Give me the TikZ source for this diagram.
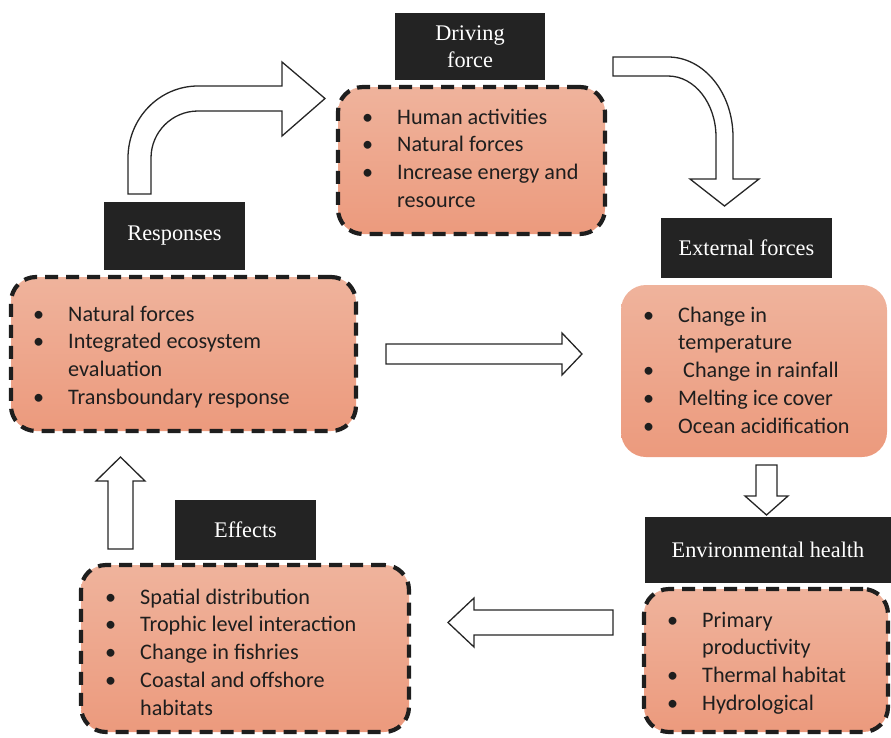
\documentclass[tikz,border=0pt]{standalone}
\usepackage{fontspec}
\setmainfont{Carlito}
\newfontfamily\titlefont{Liberation Serif}
\definecolor{salmonTop}{RGB}{239,179,156}
\definecolor{salmonBot}{RGB}{236,154,125}
\definecolor{titlebg}{RGB}{35,35,35}
\definecolor{dashcol}{RGB}{30,30,30}
\definecolor{textcol}{RGB}{30,30,30}
\newcommand\bl{\makebox[35pt][l]{•}}
\newcommand\cn{\hspace*{35pt}}
\newcommand\fl{\rule{0pt}{18pt}}
\tikzset{
 salmonbox/.style={rectangle, rounded corners=25pt, top color=salmonTop, bottom color=salmonBot, inner sep=0},
 dashedbox/.style={draw=dashcol, line width=4.2pt, dash pattern=on 13pt off 8pt},
 titlebox/.style={rectangle, fill=titlebg, text=white, font=\titlefont\fontsize{22.3}{27}\selectfont, align=center, inner sep=0},
 listtext/.style={anchor=north west, inner sep=0, align=left, font=\fontsize{22.2}{27.7}\selectfont, text=textcol},
 blockarrow/.style={draw=black!85, line width=1.3pt, fill=white, line join=miter}
}
\begin{document}
\begin{tikzpicture}[x=1pt,y=-1pt]
\useasboundingbox (0,0) rectangle (891,737);

% block arrows
\draw[blockarrow] (128,194) -- (128,158) arc[start angle=180, end angle=270, x radius=70, y radius=72] -- (282,86) -- (282,62) -- (325,98.5) -- (282,136) -- (282,111) -- (198,111) arc[start angle=270, end angle=180, radius=47] -- (151,194) -- cycle;
\draw[blockarrow] (613,57) -- (668,57) arc[start angle=270, end angle=360, x radius=65, y radius=80] -- (733,179) -- (759,179) -- (724.5,206) -- (690,179) -- (716,179) -- (716,137) arc[start angle=360, end angle=270, x radius=48, y radius=61] -- (613,76) -- cycle;
\draw[blockarrow] (386,344) -- (562,344) -- (562,333) -- (582,354) -- (562,375) -- (562,364) -- (386,364) -- cycle;
\draw[blockarrow] (756,465) -- (777,465) -- (777,496) -- (788,496) -- (766.5,515) -- (745,496) -- (756,496) -- cycle;
\draw[blockarrow] (613,610) -- (474,610) -- (474,598) -- (448,622.5) -- (474,647) -- (474,635) -- (613,635) -- cycle;
\draw[blockarrow] (108,549) -- (108,481) -- (96,481) -- (120.5,457) -- (145,481) -- (133,481) -- (133,549) -- cycle;

% salmon boxes
\node[salmonbox, dashedbox, minimum width=267pt, minimum height=147pt] (drvbox) at (471.5,160.5) {};
\node[salmonbox, minimum width=266pt, minimum height=172pt] (extbox) at (754,371) {};
\node[salmonbox, dashedbox, minimum width=345pt, minimum height=154pt] (resbox) at (183.5,354) {};
\node[salmonbox, dashedbox, minimum width=328pt, minimum height=167pt] (effbox) at (245,648.5) {};
\node[salmonbox, dashedbox, minimum width=244pt, minimum height=143pt] (envbox) at (766,660.5) {};

% title boxes
\node[titlebox, minimum width=150pt, minimum height=67pt] (drvtitle) at (470,46.5) {Driving\\force};
\node[titlebox, minimum width=171pt, minimum height=60pt] (exttitle) at (746.5,248) {External forces};
\node[titlebox, minimum width=141pt, minimum height=68pt] (restitle) at (174.5,236) {Responses};
\node[titlebox, minimum width=141pt, minimum height=60pt] (efftitle) at (245.5,530) {Effects};
\node[titlebox, minimum width=246pt, minimum height=66pt] (envtitle) at (768,550) {Environmental health};

% lists
\node[listtext] (drvlist) at (362,106) {\fl\bl Human activities\\ \bl Natural forces\\ \bl Increase energy and\\ \cn resource};
\node[listtext] (reslist) at (33,303) {\fl\bl Natural forces\\ \bl Integrated ecosystem\\ \cn evaluation\\ \bl Transboundary response};
\node[listtext] (extlist) at (643,304) {\fl\bl Change in\\ \cn temperature\\ \bl\hspace*{5pt}Change in rainfall\\ \bl Melting ice cover\\ \bl Ocean acidification};
\node[listtext] (efflist) at (105,586) {\fl\bl Spatial distribution\\ \bl Trophic level interaction\\ \bl Change in fishries\\ \bl Coastal and offshore\\ \cn habitats};
\node[listtext] (envlist) at (667,609) {\fl\bl Primary\\ \cn productivity\\ \bl Thermal habitat\\ \bl Hydrological};
\end{tikzpicture}
\end{document}
